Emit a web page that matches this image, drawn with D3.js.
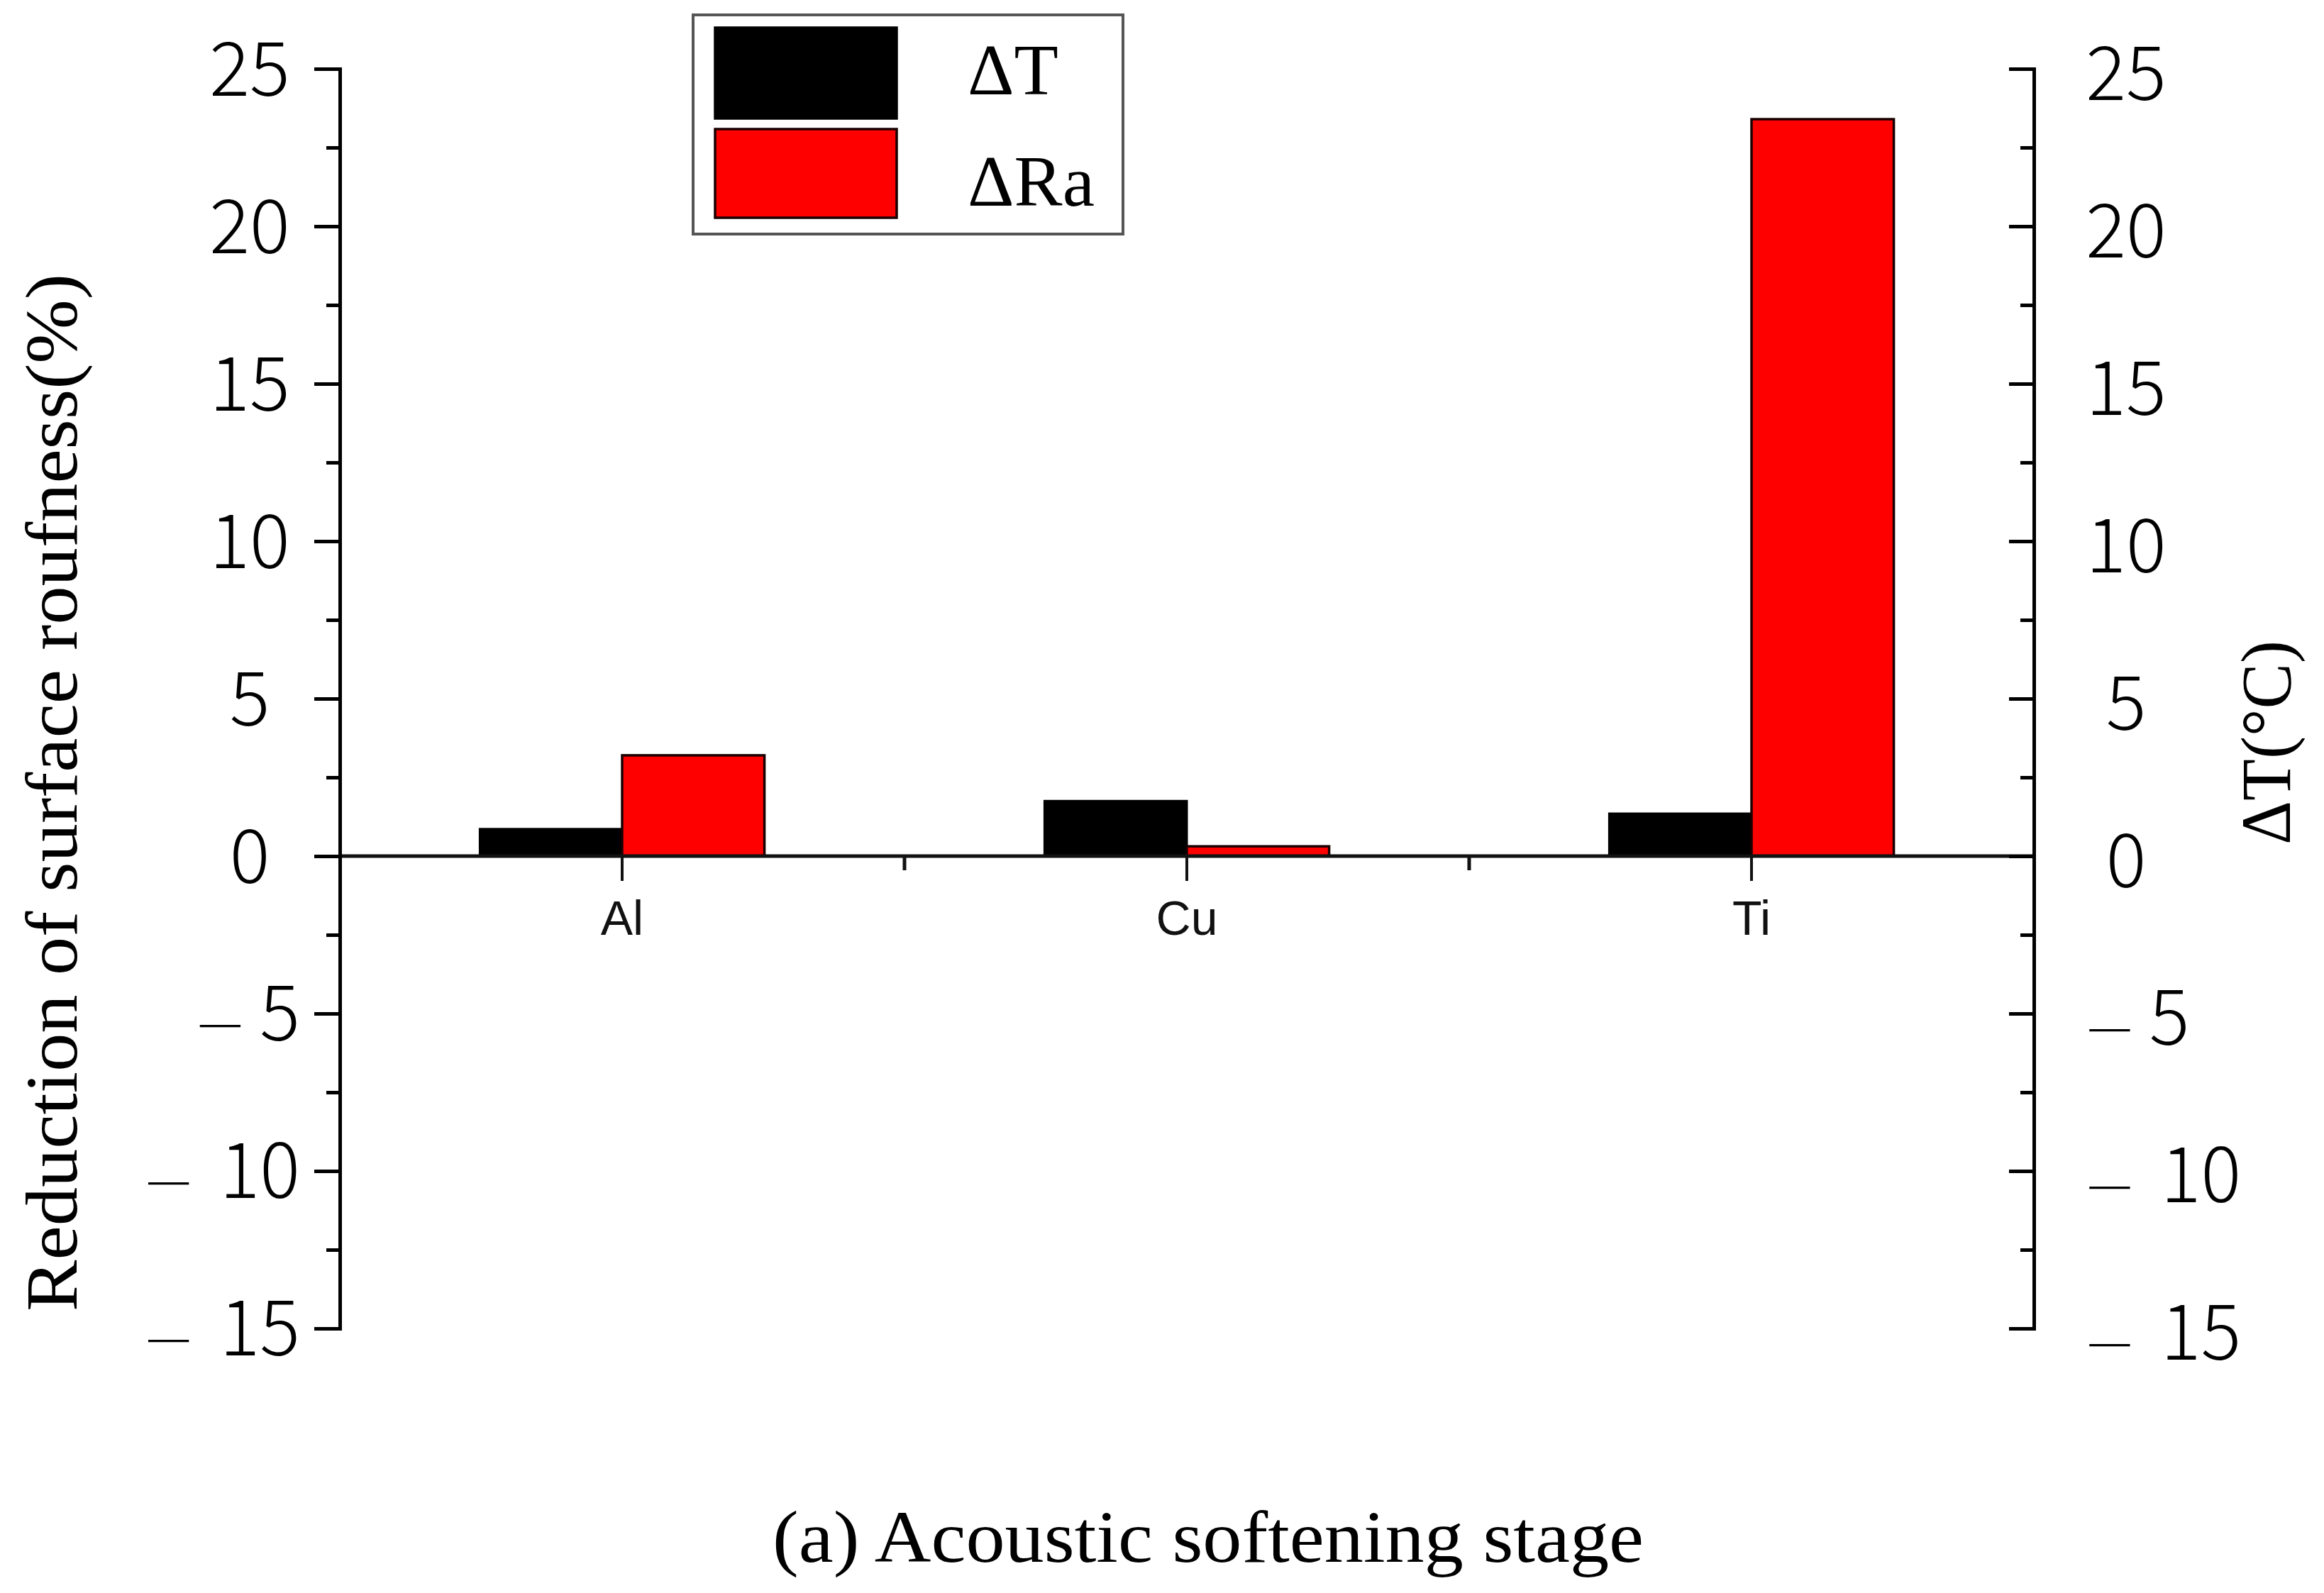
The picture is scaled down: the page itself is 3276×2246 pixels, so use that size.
<!DOCTYPE html>
<html>
<head>
<meta charset="utf-8">
<script src="https://cdn.jsdelivr.net/npm/d3@7/dist/d3.min.js"></script>
<style>
  html, body { margin: 0; padding: 0; background: #fff; }
  svg { display: block; }
</style>
</head>
<body>
<svg id="chart" width="3276" height="2246"></svg>
<script>
// ---- data ----
const categories = ["Al", "Cu", "Ti"];
const deltaT = [0.86, 1.75, 1.35];     // black bars, ΔT (°C), right axis
const deltaRa = [3.2, 0.31, 23.4];     // red bars, ΔRa (%), left axis
const yMajorTicks = [-15, -10, -5, 0, 5, 10, 15, 20, 25];
const yMinorTicks = [-12.5, -7.5, -2.5, 2.5, 7.5, 12.5, 17.5, 22.5];
const yTickLabels = ["–15", "–10", "–5", "0", "5", "10", "15", "20", "25"];
const seriesNames = ["ΔT", "ΔRa"];
const seriesColors = ["#000000", "#ff0000"];
const leftTitle = "Reduction of surface roufness(%)";
const rightTitle = "ΔT(°C)";
const caption = "(a) Acoustic softening stage";

// ---- layout ----
const svg = d3.select("#chart");
const X0 = 479, X1 = 2867, YTOP = 97, YBOT = 1873;

const y = d3.scaleLinear().domain([-15, 25]).range([YBOT, YTOP]);
const yR = d3.scaleLinear().domain([-15, 25]).range([YBOT, YTOP]);
const x = d3.scaleBand().domain(categories).range([X0, X1]).padding(0);
const barW = x.bandwidth() * 0.252;

const tickFont = "'Noto Sans CJK JP', 'Noto Sans', sans-serif";
const serifFont = "'Liberation Serif', 'DejaVu Serif', serif";
const tickFS = 106;

// ---- bars ----
const g = svg.append("g");
g.selectAll("rect.dt").data(categories).join("rect")
  .attr("class", "dt")
  .attr("x", d => x(d) + x.bandwidth() / 2 - barW)
  .attr("width", barW)
  .attr("y", (d, i) => yR(deltaT[i]))
  .attr("height", (d, i) => yR(0) - yR(deltaT[i]))
  .attr("fill", seriesColors[0])
  .attr("stroke", "#000").attr("stroke-width", 3);

g.selectAll("rect.dra").data(categories).join("rect")
  .attr("class", "dra")
  .attr("x", d => x(d) + x.bandwidth() / 2)
  .attr("width", barW)
  .attr("y", (d, i) => y(deltaRa[i]))
  .attr("height", (d, i) => y(0) - y(deltaRa[i]))
  .attr("fill", seriesColors[1])
  .attr("stroke", "#1a0000").attr("stroke-width", 3.5);

// ---- zero-line x axis ----
const xAxis = d3.axisBottom(x).tickSize(35).tickFormat("");
const xg = svg.append("g").attr("transform", `translate(0,${y(0)})`).call(xAxis);
xg.select(".domain").attr("stroke", "#111").attr("stroke-width", 5).attr("d", `M${X0},0H${X1}`);
xg.selectAll(".tick line").attr("stroke", "#111").attr("stroke-width", 4);
const boundaries = categories.slice(1).map(c => x(c));
xg.selectAll("line.bnd").data(boundaries).join("line")
  .attr("class", "bnd")
  .attr("x1", d => d).attr("x2", d => d)
  .attr("y1", 0).attr("y2", 20)
  .attr("stroke", "#111").attr("stroke-width", 5);
svg.selectAll("text.cat").data(categories).join("text")
  .attr("class", "cat")
  .attr("x", d => x(d) + x.bandwidth() / 2)
  .attr("y", 1318)
  .attr("text-anchor", "middle")
  .attr("font-family", "'Liberation Sans', Arial, sans-serif")
  .attr("font-size", 68)
  .attr("fill", "#111")
  .text(d => d);

// ---- helpers ----
function styleAxis(sel) {
  sel.select(".domain").attr("stroke", "#000").attr("stroke-width", 5);
  sel.selectAll(".tick line").attr("stroke", "#000").attr("stroke-width", 5);
}
function writeLabel(sel) {
  sel.each(function (d, i) {
    const t = d3.select(this);
    const lab = yTickLabels[i];
    if (lab.startsWith("–")) {
      t.append("tspan").attr("font-size", 72).text("—");
      t.append("tspan").attr("dx", lab.length > 2 ? 40 : 24).text(lab.slice(1));
    } else {
      t.text(lab);
    }
  });
}

// ---- left axis ----
const leftMajor = d3.axisLeft(y).tickValues(yMajorTicks).tickSize(36).tickSizeOuter(36).tickFormat("");
const lg = svg.append("g").attr("transform", `translate(${X0},0)`).call(leftMajor);
styleAxis(lg);
const leftMinor = d3.axisLeft(y).tickValues(yMinorTicks).tickSize(19).tickSizeOuter(0).tickFormat("");
const lgm = svg.append("g").attr("transform", `translate(${X0},0)`).call(leftMinor);
lgm.select(".domain").remove();
styleAxis(lgm);

svg.selectAll("text.ly").data(yMajorTicks).join("text")
  .attr("class", "ly")
  .attr("x", d => d < 0 ? 423 : 352)
  .attr("y", d => y(d) + tickFS * 0.36)
  .attr("text-anchor", d => d < 0 ? "end" : "middle")
  .attr("font-family", tickFont)
  .attr("font-weight", 300)
  .attr("font-size", tickFS)
  .attr("fill", "#000")
  .call(writeLabel);

// ---- right axis (ticks point inward) ----
const rightMajor = d3.axisLeft(yR).tickValues(yMajorTicks).tickSize(35).tickSizeOuter(35).tickFormat("");
const rg = svg.append("g").attr("transform", `translate(${X1},0)`).call(rightMajor);
styleAxis(rg);
const rightMinor = d3.axisLeft(yR).tickValues(yMinorTicks).tickSize(19).tickSizeOuter(0).tickFormat("");
const rgm = svg.append("g").attr("transform", `translate(${X1},0)`).call(rightMinor);
rgm.select(".domain").remove();
styleAxis(rgm);

svg.selectAll("text.ry").data(yMajorTicks).join("text")
  .attr("class", "ry")
  .attr("x", d => d < 0 ? 2942 : 2997)
  .attr("y", d => yR(d) + 6 + tickFS * 0.36)
  .attr("text-anchor", d => d < 0 ? "start" : "middle")
  .attr("font-family", tickFont)
  .attr("font-weight", 300)
  .attr("font-size", tickFS)
  .attr("fill", "#000")
  .call(writeLabel);

// ---- axis titles ----
svg.append("text")
  .attr("transform", `translate(108,${(386 + 1849) / 2}) rotate(-90)`)
  .attr("text-anchor", "middle")
  .attr("font-family", serifFont)
  .attr("font-size", 104)
  .attr("textLength", 1463)
  .attr("lengthAdjust", "spacingAndGlyphs")
  .attr("fill", "#000")
  .text(leftTitle);

svg.append("text")
  .attr("transform", `translate(3228,1047) rotate(-90)`)
  .attr("text-anchor", "middle")
  .attr("font-family", serifFont)
  .attr("font-size", 100)
  .attr("textLength", 288)
  .attr("lengthAdjust", "spacingAndGlyphs")
  .attr("fill", "#000")
  .text(rightTitle);

// ---- legend ----
const leg = svg.append("g");
leg.append("rect")
  .attr("x", 977).attr("y", 21).attr("width", 606).attr("height", 309)
  .attr("fill", "#fff").attr("stroke", "#555").attr("stroke-width", 4);
const legRows = [{ y0: 39, y1: 167, base: 133 }, { y0: 182, y1: 307, base: 290 }];
seriesNames.forEach((name, i) => {
  leg.append("rect")
    .attr("x", 1008).attr("y", legRows[i].y0)
    .attr("width", 256).attr("height", legRows[i].y1 - legRows[i].y0)
    .attr("fill", seriesColors[i])
    .attr("stroke", i === 0 ? "#000" : "#1a0000").attr("stroke-width", 3.5);
  leg.append("text")
    .attr("x", 1364).attr("y", legRows[i].base)
    .attr("font-family", serifFont)
    .attr("font-size", 102)
    .attr("fill", "#000")
    .text(name);
});

// ---- caption ----
svg.append("text")
  .attr("x", (1089 + 2317) / 2).attr("y", 2202)
  .attr("text-anchor", "middle")
  .attr("font-family", serifFont)
  .attr("font-size", 104)
  .attr("textLength", 1228)
  .attr("lengthAdjust", "spacingAndGlyphs")
  .attr("fill", "#000")
  .text(caption);
</script>
</body>
</html>
